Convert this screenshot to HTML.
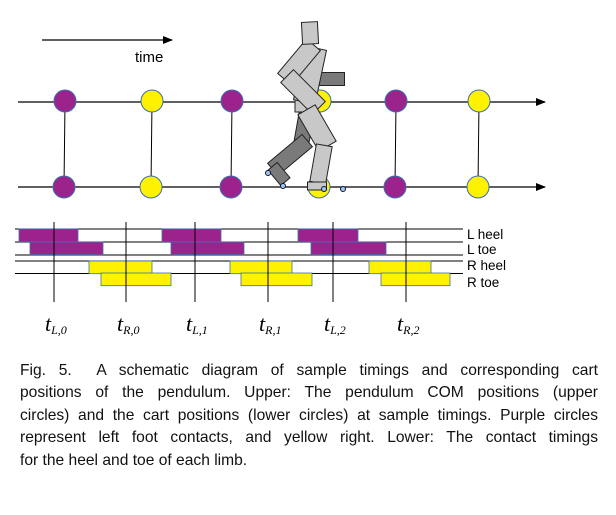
<!DOCTYPE html>
<html><head><meta charset="utf-8"><style>
html,body{margin:0;padding:0;background:#fff;}
body{width:616px;height:515px;position:relative;overflow:hidden;}
svg{position:absolute;left:0;top:0;}
.cap{position:absolute;left:20px;top:360px;width:578px;font-family:"Liberation Sans",sans-serif;font-size:15.6px;line-height:22.4px;color:#111;text-align:justify;}
.cap span{display:block;text-align:justify;text-align-last:justify;}
.cap span.last{text-align-last:left;}
</style></head><body>
<svg id="chart" width="616" height="350" viewBox="0 0 616 350"></svg>
<div class="cap">
<span>Fig. 5.&nbsp; A schematic diagram of sample timings and corresponding cart</span>
<span>positions of the pendulum. Upper: The pendulum COM positions (upper</span>
<span>circles) and the cart positions (lower circles) at sample timings. Purple circles</span>
<span>represent left foot contacts, and yellow right. Lower: The contact timings</span>
<span class="last">for the heel and toe of each limb.</span>
</div>
<script>
// sample timings (x of circles), foot side
const sampleX = [65, 152, 232, 320, 396, 479];
const sampleSide = ["L","R","L","R","L","R"];
// timing marker lines and labels
const markerX = [54, 126, 195, 268, 333, 406];
const markerSub = ["L,0","R,0","L,1","R,1","L,2","R,2"];
// contact bars [start,end] per row
const rowNames = ["L heel","L toe","R heel","R toe"];
const rowY = [229, 242, 261, 273];
const lHeel = [[19,78],[162,221],[298,358]];
const lToe = [[30,103],[171,244],[311,386]];
const rHeel = [[89,152],[230,292],[369,431]];
const rToe = [[101,171],[241,312],[381,450]];
const rowBars = [lHeel,lToe,rHeel,rToe];

const svg = document.getElementById('chart');
const NS = "http://www.w3.org/2000/svg";
function mk(tag, attrs){const e=document.createElementNS(NS,tag);for(const k in attrs)e.setAttribute(k,attrs[k]);svg.appendChild(e);return e;}
const PURPLE="#9c238c", YELLOW="#fff200", EDGE="#3b6fb0";

const defs=mk('defs',{});
const mkr=document.createElementNS(NS,'marker');
mkr.setAttribute('id','ah');mkr.setAttribute('markerWidth','10');mkr.setAttribute('markerHeight','8');mkr.setAttribute('refX','9');mkr.setAttribute('refY','4');mkr.setAttribute('orient','auto');mkr.setAttribute('markerUnits','userSpaceOnUse');
const mp=document.createElementNS(NS,'path');mp.setAttribute('d','M0,0 L10,4 L0,8 Z');mp.setAttribute('fill','#000');mkr.appendChild(mp);defs.appendChild(mkr);

let e=mk('line',{x1:42,y1:40,x2:172,y2:40,stroke:'#000','stroke-width':1.2,'marker-end':'url(#ah)'});


e=mk('text',{x:135,y:62,'font-family':'Liberation Sans, sans-serif','font-size':15});e.textContent='time';



e=mk('line',{x1:18,y1:102,x2:545,y2:102,stroke:'#000','stroke-width':1.2,'marker-end':'url(#ah)'});


e=mk('line',{x1:18,y1:187,x2:545,y2:187,stroke:'#000','stroke-width':1.2,'marker-end':'url(#ah)'});



sampleX.forEach((x,i)=>{
  const c = sampleSide[i]==="L"?PURPLE:YELLOW;
  let l=mk('line',{x1:x,y1:102,x2:x-1,y2:187,stroke:'#000','stroke-width':1});
  
  
  let a=mk('circle',{cx:x,cy:101,r:11,fill:c,stroke:EDGE,'stroke-width':1});
  
  
  let b=mk('circle',{cx:x-1,cy:187,r:11,fill:c,stroke:EDGE,'stroke-width':1});
  
  
});

// runner figure
const g=document.createElementNS(NS,'g');svg.appendChild(g);
function rc(cx,cy,w,h,rot,fill){const r=document.createElementNS(NS,'rect');r.setAttribute('x',cx-w/2);r.setAttribute('y',cy-h/2);r.setAttribute('width',w);r.setAttribute('height',h);r.setAttribute('fill',fill);r.setAttribute('stroke','#222');r.setAttribute('stroke-width','1');r.setAttribute('transform','rotate('+rot+' '+cx+' '+cy+')');g.appendChild(r);}
const DG="#7a7a7a", LG="#c8c8c8";
rc(331,79,27,13,0,DG);        // back arm
rc(304,128,15,38,10,DG);      // back thigh
rc(290,155,16,45,50,DG);      // back shin
rc(279,174,12,20,-40,DG);     // back foot
rc(306,102,22,20,0,LG);       // hip
rc(310,75,22,55,12,LG);       // torso
rc(299,62,18,45,40,LG);       // upper arm
rc(303,92,18,45,-45,LG);      // forearm
rc(310,33,16,22,-3,LG);       // head
rc(317,128,20,42,-30,LG);     // front thigh
rc(321,164,16,38,10,LG);      // front shin
rc(317,186,19,8,0,LG);        // front foot
[[268,173],[283,186],[324,189],[343,189]].forEach(p=>{const c=document.createElementNS(NS,'circle');c.setAttribute('cx',p[0]);c.setAttribute('cy',p[1]);c.setAttribute('r',2.5);c.setAttribute('fill','#9cc8f0');c.setAttribute('stroke','#113');g.appendChild(c);});

// contact rows
const lineYs=[229,242,255,261,273.5];
lineYs.forEach((y)=>{
  let l=mk('line',{x1:15,y1:y,x2:463,y2:y,stroke:'#000','stroke-width':1});
  
  
});
const labelY=[239,254,270,287];
rowBars.forEach((bars,r)=>{
  const fill = r<2?PURPLE:YELLOW;
  bars.forEach(b=>{
    let rect=mk('rect',{x:b[0],y:rowY[r],width:b[1]-b[0],height:12.7,fill:fill,stroke:EDGE,'stroke-width':0.8});
    
    
  });
  let t=mk('text',{x:467,y:labelY[r],'font-family':'Liberation Sans, sans-serif','font-size':13.5});
  t.textContent=rowNames[r];
  
  
});
markerX.forEach((x,i)=>{
  let l=mk('line',{x1:x,y1:222,x2:x,y2:302,stroke:'#000','stroke-width':1});
  
  
  let t=mk('text',{x:x-9,y:331,'font-family':'Liberation Serif, serif','font-size':22,'font-style':'italic'});
  t.textContent='t';
  const ts=document.createElementNS(NS,'tspan');ts.setAttribute('font-size','12');ts.setAttribute('dy','3');ts.textContent=markerSub[i];t.appendChild(ts);
  
  
});
</script>
</body></html>
